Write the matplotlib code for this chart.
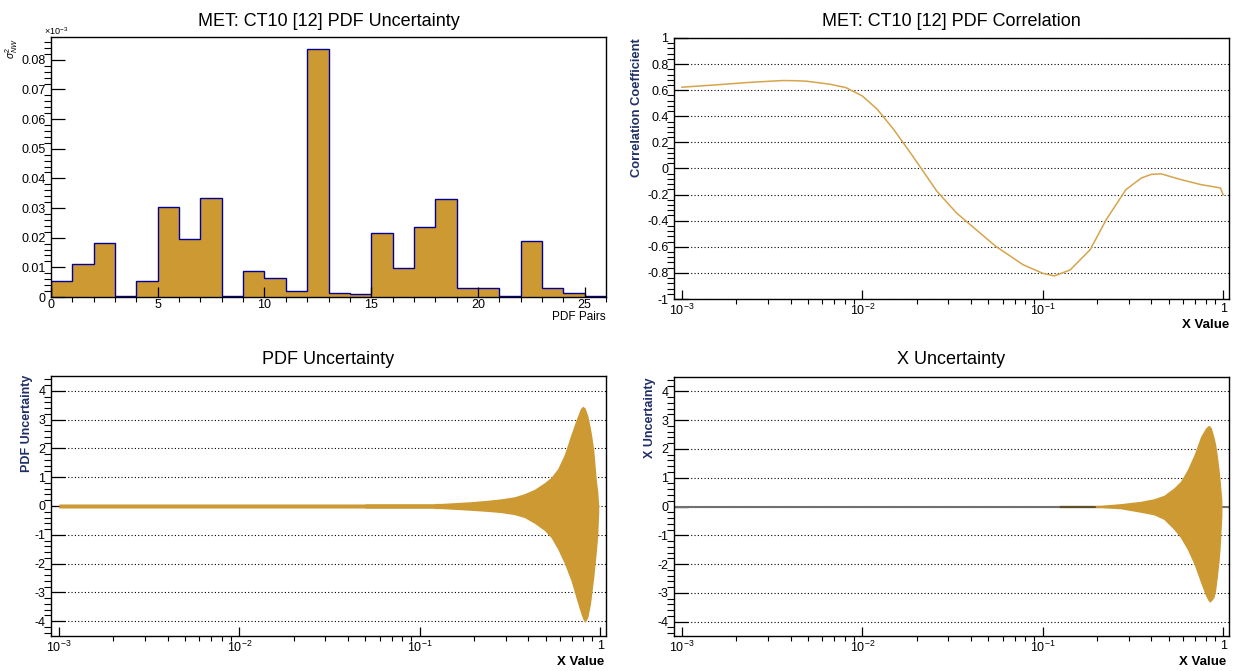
import numpy as np
import matplotlib
matplotlib.use('Agg')
import matplotlib.pyplot as plt
from matplotlib.ticker import MultipleLocator, LogLocator, NullFormatter, FuncFormatter

plt.rcParams['font.family'] = ['Liberation Sans', 'DejaVu Sans']
plt.rcParams['mathtext.fontset'] = 'custom'
plt.rcParams['mathtext.rm'] = 'Liberation Sans'
plt.rcParams['mathtext.it'] = 'Liberation Sans:italic'
plt.rcParams['mathtext.bf'] = 'Liberation Sans:bold'
plt.rcParams['axes.unicode_minus'] = False

W, H = 1235, 671
GOLD = '#cc9933'
LINE_GOLD = '#d6a44a'
NAVY = '#1f2f66'

# sigma^2 per PDF eigenvector pair (axis in units of 1e-3)
pair_vals = [0.0055, 0.0110, 0.0182, 0.0005, 0.0055, 0.0305, 0.0195, 0.0335,
             0.0002, 0.0088, 0.0065, 0.0020, 0.0835, 0.0015, 0.0010, 0.0215,
             0.0097, 0.0237, 0.0330, 0.0032, 0.0032, 0.0005, 0.0190, 0.0032,
             0.0012, 0.0002]

# correlation coefficient vs x
corr_x = [0.001, 0.00155, 0.00232, 0.003, 0.00364, 0.0042, 0.0049, 0.0066, 0.0081,
          0.010, 0.0121, 0.0149, 0.0182, 0.0211, 0.0259, 0.0333, 0.0407, 0.055,
          0.078, 0.100, 0.116, 0.142, 0.183, 0.225, 0.289, 0.353, 0.40, 0.454,
          0.583, 0.751, 0.966, 1.0]
corr_y = [0.623, 0.641, 0.659, 0.668, 0.674, 0.673, 0.669, 0.646, 0.620,
          0.556, 0.454, 0.300, 0.133, 0.005, -0.174, -0.341, -0.444, -0.597,
          -0.738, -0.803, -0.823, -0.777, -0.623, -0.392, -0.162, -0.072, -0.045, -0.041,
          -0.085, -0.123, -0.149, -0.200]

# PDF uncertainty band envelope
pdf_x = [0.001, 0.049, 0.05, 0.12, 0.121, 0.131, 0.192, 0.238, 0.282, 0.334,
         0.380, 0.432, 0.491, 0.535, 0.582, 0.634, 0.690, 0.736, 0.778, 0.801,
         0.825, 0.854, 0.884, 0.899, 0.922, 0.954, 0.971, 0.983]
pdf_hi = [0.07, 0.07, 0.08, 0.08, 0.09, 0.09, 0.15, 0.20, 0.25, 0.32,
          0.43, 0.58, 0.81, 1.00, 1.30, 1.80, 2.50, 3.00, 3.39, 3.47,
          3.41, 3.15, 2.70, 2.43, 1.95, 0.87, 0.50, 0.00]
pdf_lo = [-0.07, -0.07, -0.08, -0.08, -0.09, -0.09, -0.15, -0.19, -0.23, -0.30,
          -0.40, -0.60, -0.85, -1.10, -1.50, -2.00, -2.60, -3.20, -3.70, -3.92,
          -4.05, -3.88, -3.41, -3.05, -2.49, -1.56, -1.00, -0.20]

# X uncertainty band envelope
xu_x = [0.1955, 0.2694, 0.348, 0.413, 0.4694, 0.5337, 0.5812, 0.633, 0.6896,
        0.751, 0.8007, 0.8288, 0.843, 0.861, 0.891, 0.910, 0.930, 0.950,
        0.962, 0.985]
xu_hi = [0.03, 0.10, 0.18, 0.27, 0.39, 0.65, 0.88, 1.28, 1.80,
         2.44, 2.73, 2.82, 2.80, 2.73, 2.40, 2.15, 1.75, 1.28,
         0.95, 0.20]
xu_lo = [-0.03, -0.08, -0.20, -0.29, -0.45, -0.80, -1.09, -1.49, -2.00,
         -2.65, -3.11, -3.28, -3.32, -3.28, -3.15, -2.90, -2.42, -1.90,
         -1.49, -0.30]

log_ticks = [1e-3, 1e-2, 1e-1, 1]
log_labels = [r'$\mathdefault{10^{-3}}$', r'$\mathdefault{10^{-2}}$',
              r'$\mathdefault{10^{-1}}$', '1']
XMIN, XMAX = 9.04e-4, 1.078

fig = plt.figure(figsize=(W / 100, H / 100), dpi=100)


def box(l, t, r, b):
    return [l / W, 1 - b / H, (r - l) / W, (b - t) / H]


def at(x, y):
    return x / W, 1 - y / H


def root_style(ax, ymaj, ymin_step, ymaj_len=10, xmaj_len=6.5, xpad=3):
    for s in ax.spines.values():
        s.set_linewidth(1.0)
    ax.tick_params(direction='in', top=False, right=False, labelsize=9, width=0.9)
    ax.tick_params(axis='y', which='major', length=ymaj_len, pad=4)
    ax.tick_params(axis='y', which='minor', length=ymaj_len / 2, width=0.8)
    ax.tick_params(axis='x', which='major', length=xmaj_len, pad=xpad)
    ax.tick_params(axis='x', which='minor', length=xmaj_len / 2, width=0.8)
    ax.yaxis.set_major_locator(MultipleLocator(ymaj))
    ax.yaxis.set_minor_locator(MultipleLocator(ymin_step))
    ax.yaxis.set_major_formatter(FuncFormatter(lambda v, p: '%g' % round(v, 6)))


def log_x(ax):
    ax.set_xscale('log')
    ax.set_xlim(XMIN, XMAX)
    ax.set_xticks(log_ticks)
    ax.set_xticklabels(log_labels)
    ax.xaxis.set_minor_locator(LogLocator(base=10, subs=range(2, 10)))
    ax.xaxis.set_minor_formatter(NullFormatter())


def dotted_grid(ax):
    ax.yaxis.grid(True, which='major', linestyle=(0, (1, 2)), color='black', lw=0.8)
    ax.set_axisbelow(True)


# --- histogram of pair contributions
ax1 = fig.add_axes(box(51, 37, 606, 297))
edges = np.arange(len(pair_vals) + 1)
ax1.stairs(pair_vals, edges, fill=True, color=GOLD, lw=0)
ax1.stairs(pair_vals, edges, color='#000099', lw=1.0)
ax1.set_xlim(0, 26)
ax1.set_ylim(0, 0.0877)
root_style(ax1, 0.01, 0.002, ymaj_len=10, xmaj_len=7, xpad=1.5)
ax1.xaxis.set_major_locator(MultipleLocator(5))
ax1.xaxis.set_minor_locator(MultipleLocator(1))
ax1.set_title('MET: CT10 [12] PDF Uncertainty', fontsize=13, pad=8)
fig.text(*at(606, 317), 'PDF Pairs', fontsize=8.5, ha='right', va='center')
fig.text(*at(44, 31), r'$\times\mathdefault{10^{-3}}$', fontsize=6.5, ha='left', va='center')
fig.text(*at(12, 38), r'$\sigma^{2}_{NW}$', fontsize=7.5, rotation=90, ha='center', va='top')

# --- correlation coefficient
ax2 = fig.add_axes(box(674, 38, 1229, 299))
ax2.plot(corr_x, corr_y, color=LINE_GOLD, lw=1.1)
log_x(ax2)
ax2.set_ylim(-1, 1)
root_style(ax2, 0.2, 0.04)
dotted_grid(ax2)
ax2.set_title('MET: CT10 [12] PDF Correlation', fontsize=13, pad=9)
fig.text(*at(1229, 325), 'X Value', fontsize=9.5, weight='bold', ha='right', va='center')
fig.text(*at(637, 38), 'Correlation Coefficient', fontsize=9.3, weight='bold',
         color=NAVY, rotation=90, ha='center', va='top')

# --- PDF uncertainty band
ax3 = fig.add_axes(box(51, 376, 606, 636))
ax3.fill_between(pdf_x, pdf_lo, pdf_hi, color=GOLD, lw=0)
log_x(ax3)
ax3.set_ylim(-4.52, 4.52)
root_style(ax3, 1, 0.2)
dotted_grid(ax3)
ax3.set_title('PDF Uncertainty', fontsize=13, pad=9)
fig.text(*at(604, 662), 'X Value', fontsize=9.5, weight='bold', ha='right', va='center')
fig.text(*at(27, 375), 'PDF Uncertainty', fontsize=9, weight='bold',
         color=NAVY, rotation=90, ha='center', va='top')

# --- X uncertainty band
ax4 = fig.add_axes(box(674, 377, 1229, 636))
ax4.axhline(0, color='#707070', lw=1.5, zorder=2)
ax4.plot([0.126, 0.205], [0, 0], color='#5e4f26', lw=1.6, zorder=2.5)
ax4.fill_between(xu_x, xu_lo, xu_hi, color=GOLD, lw=0, zorder=3)
log_x(ax4)
ax4.set_ylim(-4.5, 4.5)
root_style(ax4, 1, 0.2)
dotted_grid(ax4)
ax4.set_title('X Uncertainty', fontsize=13, pad=9)
fig.text(*at(1226, 662), 'X Value', fontsize=9.5, weight='bold', ha='right', va='center')
fig.text(*at(650, 377), 'X Uncertainty', fontsize=9, weight='bold',
         color=NAVY, rotation=90, ha='center', va='top')

fig.savefig('out.png', dpi=100)
